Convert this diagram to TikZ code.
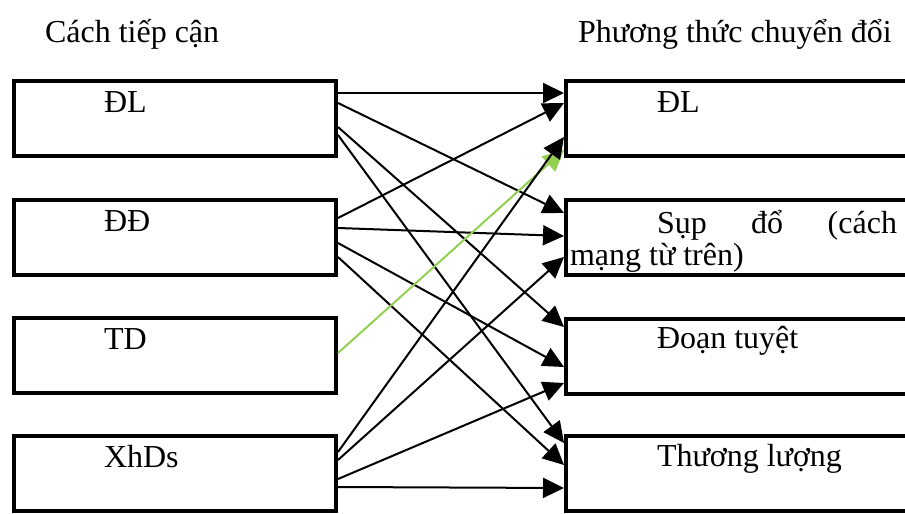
\documentclass[tikz,border=0pt]{standalone}
\usepackage{fontspec}
\setmainfont{Liberation Serif}
\newfontfamily\tnr{Liberation Serif}
\usetikzlibrary{arrows.meta}
\definecolor{lgreen}{RGB}{146,208,80}
\begin{document}
\begin{tikzpicture}[x=1pt,y=-1pt,
  box/.style={draw,line width=4.2pt,inner sep=0pt,outer sep=0pt,anchor=north west,minimum width=322pt,minimum height=75pt},
  rbox/.style={box,minimum width=360pt},
  txt/.style={inner sep=0pt,outer sep=0pt,anchor=base west,font=\tnr\fontsize{32pt}{37pt}\selectfont},
  arr/.style={line width=2pt,-{Triangle[length=21pt,width=20pt]}},
  garr/.style={arr,draw=lgreen,-{Triangle[length=21pt,width=20pt,fill=lgreen]}}]
\path[use as bounding box] (0,0) rectangle (905,514);
\clip (0,0) rectangle (905,514);
% titles
\node[txt] (h1) at (45,42) {Cách tiếp cận};
\node[txt] (h2) at (578,42) {Phương thức chuyển đổi};
% left boxes
\node[box] (L1) at (14,81) {};
\node[box] (L2) at (14,200) {};
\node[box] (L3) at (14,318) {};
\node[box] (L4) at (14,436) {};
\node[txt] (tL1) at (104,112) {ĐL};
\node[txt] (tL2) at (104,231) {ĐĐ};
\node[txt] (tL3) at (104,349) {TD};
\node[txt] (tL4) at (104,467) {XhDs};
% right boxes
\node[rbox] (R1) at (566,81) {};
\node[rbox] (R2) at (566,200) {};
\node[rbox] (R3) at (566,319) {};
\node[rbox] (R4) at (566,436) {};
\node[txt] (tR1) at (657,112) {ĐL};
\node[txt] (tR2a) at (657,233) {\makebox[240pt][s]{Sụp đổ (cách}};
\node[txt] (tR2b) at (570,265) {mạng từ trên)};
\node[txt] (tR3) at (657,348) {Đoạn tuyệt};
\node[txt] (tR4) at (657,466) {Thương lượng};
% arrows from ĐL
\draw[arr] ([shift={(2,12)}]L1.north east) -- ([shift={(-2,12)}]R1.north west);
\draw[arr] ([shift={(2,22)}]L1.north east) -- ([shift={(-2,13)}]R2.north west);
\draw[arr] ([shift={(2,46)}]L1.north east) -- ([shift={(-2,8)}]R3.north west);
\draw[arr] ([shift={(2,54)}]L1.north east) -- ([shift={(-2,7)}]R4.north west);
% arrows from ĐĐ
\draw[arr] ([shift={(2,18)}]L2.north east) -- ([shift={(-2,22)}]R1.north west);
\draw[arr] ([shift={(2,28)}]L2.north east) -- ([shift={(-2,36)}]R2.north west);
\draw[arr] ([shift={(2,43)}]L2.north east) -- ([shift={(-2,48)}]R3.north west);
\draw[arr] ([shift={(2,57)}]L2.north east) -- ([shift={(-2,29)}]R4.north west);
% arrow from TD
\draw[garr] ([shift={(2,35)}]L3.north east) -- ([shift={(-2,69)}]R1.north west);
% arrows from XhDs
\draw[arr] ([shift={(2,16)}]L4.north east) -- ([shift={(-2,56)}]R1.north west);
\draw[arr] ([shift={(2,24)}]L4.north east) -- ([shift={(-2,57)}]R2.north west);
\draw[arr] ([shift={(2,43)}]L4.north east) -- ([shift={(-2,64)}]R3.north west);
\draw[arr] ([shift={(2,51)}]L4.north east) -- ([shift={(-2,52)}]R4.north west);
\end{tikzpicture}
\end{document}
